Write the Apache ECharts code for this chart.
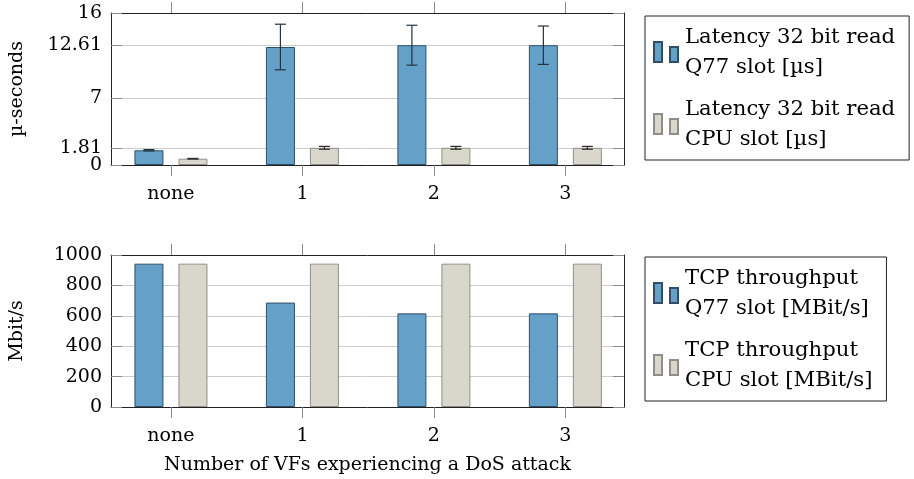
<!DOCTYPE html>
<html><head><meta charset="utf-8">
<script src="https://cdn.jsdelivr.net/npm/echarts@6/dist/echarts.min.js"></script>
<style>html,body{margin:0;padding:0;background:#fff}#c{width:914px;height:479px}</style>
</head><body><div id="c"></div>
<script>
// ---- data ----
const categories = ['none', '1', '2', '3'];
const categoryPos = [0, 1, 2, 3];
const latencyTicks = [0, 1.81, 7, 12.61, 16];
const latencyLabelsA = [0, 7, 16];
const latencyLabelsB = [1.81, 12.61];
const latQ77 = [1.55, 12.42, 12.61, 12.61];
const latQ77Err = [0.07, 2.4, 2.1, 2.02];
const latCpu = [0.66, 1.81, 1.81, 1.81];
const latCpuErr = [0.03, 0.15, 0.15, 0.15];
const tcpQ77 = [943, 687, 616, 616];
const tcpCpu = [943, 943, 943, 943];
const tcpTicks = [0, 200, 400, 600, 800, 1000];
const names = {
  latQ77: 'Latency 32 bit read\nQ77 slot [µs]',
  latCpu: 'Latency 32 bit read\nCPU slot [µs]',
  tcpQ77: 'TCP throughput\nQ77 slot [MBit/s]',
  tcpCpu: 'TCP throughput\nCPU slot [MBit/s]'
};

// ---- styles ----
const FONT = 'DejaVu Serif';
const BLUE = '#65a0c8', BLUE_B = '#2f4f68';
const GRAY = '#d9d7cb', GRAY_B = '#8f8e88';
const X_MIN = -0.456, X_MAX = 3.446;
const BAR_W = 29, BAR_GAP_PX = 15;
const OFF = (BAR_W + BAR_GAP_PX) / 2;
const ICON = 'path://M0,0H8V20H0Z M16,5H24V20H16Z';
const LABEL_STYLE = { fontFamily: FONT, fontSize: 19, color: '#000' };

function xAxes(grid, withLabels, name) {
  const base = {
    gridIndex: grid, type: 'value', min: X_MIN, max: X_MAX,
    axisLine: { show: true, onZero: false, lineStyle: { color: '#222', width: 1 } },
    axisTick: { show: true, customValues: categoryPos, length: 11, inside: false, lineStyle: { color: '#8a8a8a' } },
    splitLine: { show: false }
  };
  return [
    Object.assign({}, base, {
      position: 'bottom',
      axisLabel: Object.assign({
        show: withLabels, customValues: categoryPos, margin: 20, hideOverlap: false,
        formatter: v => categories[Math.round(v)]
      }, LABEL_STYLE),
      name: name || '', nameLocation: 'middle', nameGap: 49,
      nameTextStyle: LABEL_STYLE
    }),
    Object.assign({}, base, { position: 'top', axisLabel: { show: false } })
  ];
}
function yAxes(grid, min, max, ticks, labels, name) {
  const common = {
    gridIndex: grid, type: 'value', min: min, max: max,
    axisLine: { show: true, onZero: false, lineStyle: { color: '#222', width: 1 } },
    axisTick: { show: true, inside: true, length: 11, customValues: ticks, lineStyle: { color: '#8a8a8a' } }
  };
  return [
    Object.assign({}, common, {
      position: 'left',
      axisLabel: Object.assign({
        customValues: labels, margin: 9, hideOverlap: false, formatter: v => String(v)
      }, LABEL_STYLE),
      splitLine: { show: true, lineStyle: { color: '#cccccc', width: 1 } },
      name: name, nameLocation: 'middle', nameRotate: 90, nameGap: 84,
      nameTextStyle: LABEL_STYLE
    }),
    Object.assign({}, common, {
      position: 'right', axisLabel: { show: false }, splitLine: { show: false }
    })
  ];
}
function extraLabelAxis(grid, min, max, labels) {
  return {
    gridIndex: grid, type: 'value', min: min, max: max, position: 'left', offset: 0,
    axisLine: { show: false, onZero: false }, axisTick: { show: false, customValues: labels },
    splitLine: { show: false },
    axisLabel: Object.assign({ customValues: labels, margin: 9, hideOverlap: false, formatter: v => String(v) }, LABEL_STYLE)
  };
}
function barSeries(name, xi, yi, vals, fill, border) {
  return {
    name: name, type: 'bar', xAxisIndex: xi, yAxisIndex: yi,
    barWidth: BAR_W, barGap: (BAR_GAP_PX / BAR_W * 100) + '%',
    itemStyle: { color: fill, borderColor: border, borderWidth: 1 },
    data: categoryPos.map((x, i) => [x, vals[i]]),
    silent: true, z: 2
  };
}
function errSeries(xi, yi, vals, errs, off, color) {
  return {
    type: 'custom', xAxisIndex: xi, yAxisIndex: yi, silent: true, z: 10,
    encode: { x: 0, y: [1, 2] },
    data: categoryPos.map((x, i) => [x, vals[i] - errs[i], vals[i] + errs[i]]),
    renderItem: function (params, api) {
      const lo = api.coord([api.value(0), api.value(1)]);
      const hi = api.coord([api.value(0), api.value(2)]);
      const x = lo[0] + off, w = 5.5;
      const st = { stroke: color, lineWidth: 1.2 };
      return {
        type: 'group', children: [
          { type: 'line', shape: { x1: x, y1: hi[1], x2: x, y2: lo[1] }, style: st },
          { type: 'line', shape: { x1: x - w, y1: hi[1], x2: x + w, y2: hi[1] }, style: st },
          { type: 'line', shape: { x1: x - w, y1: lo[1], x2: x + w, y2: lo[1] }, style: st }
        ]
      };
    }
  };
}
function legend(top, data) {
  return {
    orient: 'vertical', left: 645, top: top, data: data,
    selectedMode: false, icon: ICON, itemWidth: 24, itemHeight: 20, itemGap: 12,
    padding: [6, 14, 6, 8], borderColor: '#222', borderWidth: 1,
    textStyle: { fontFamily: FONT, fontSize: 21.2, lineHeight: 30, color: '#000', padding: [0, 0, 0, 2] }
  };
}

const chart = echarts.init(document.getElementById('c'), null, { renderer: 'canvas' });
chart.setOption({
  animation: false,
  backgroundColor: '#fff',
  grid: [
    { left: 108, width: 516, top: 13, height: 152 },
    { left: 108, width: 516, top: 255, height: 152 }
  ],
  legend: [
    legend(16, [names.latQ77, names.latCpu]),
    legend(257, [names.tcpQ77, names.tcpCpu])
  ],
  xAxis: [].concat(xAxes(0, true), xAxes(1, true, 'Number of VFs experiencing a DoS attack')),
  yAxis: [].concat(
    yAxes(0, 0, 16, latencyTicks, latencyLabelsA, 'µ-seconds'),   // 0,1
    yAxes(1, 0, 1000, tcpTicks, tcpTicks, 'Mbit/s'),               // 2,3
    [extraLabelAxis(0, 0, 16, latencyLabelsB)]                      // 4
  ),
  series: [
    barSeries(names.latQ77, 0, 0, latQ77, BLUE, BLUE_B),
    barSeries(names.latCpu, 0, 0, latCpu, GRAY, GRAY_B),
    errSeries(0, 0, latQ77, latQ77Err, -OFF, '#23323f'),
    errSeries(0, 0, latCpu, latCpuErr, OFF, '#2a2a2a'),
    barSeries(names.tcpQ77, 2, 2, tcpQ77, BLUE, BLUE_B),
    barSeries(names.tcpCpu, 2, 2, tcpCpu, GRAY, GRAY_B)
  ]
});
</script></body></html>
